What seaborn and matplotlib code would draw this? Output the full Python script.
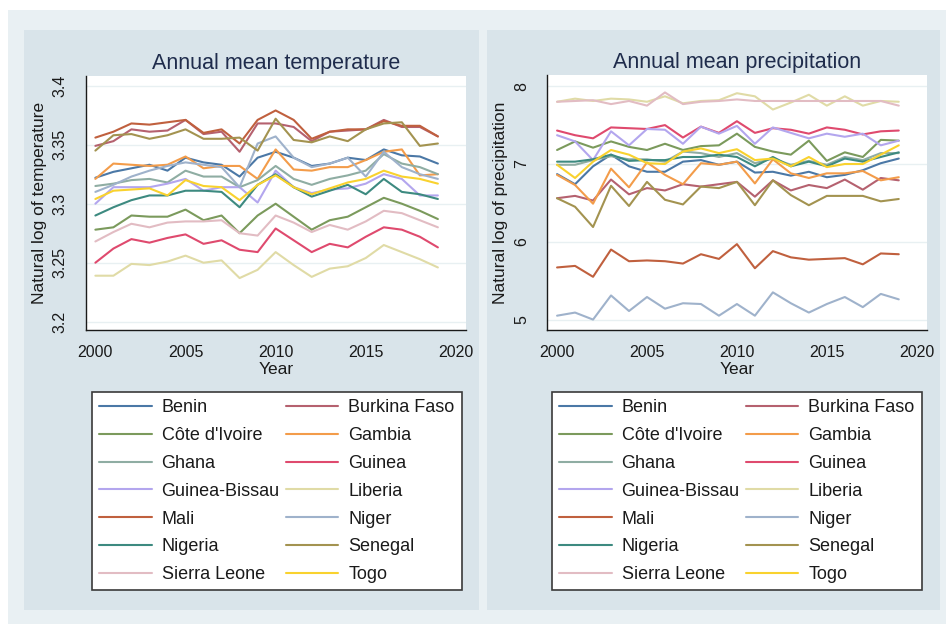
import matplotlib
matplotlib.use("Agg")
import matplotlib.pyplot as plt
from matplotlib.lines import Line2D
from matplotlib.patches import Rectangle
import pandas as pd
import seaborn as sns

# Years and countries
years = list(range(2000, 2020))
countries = ["Benin", "Burkina Faso", "Côte d'Ivoire", "Gambia", "Ghana", "Guinea",
             "Guinea-Bissau", "Liberia", "Mali", "Niger", "Nigeria", "Senegal",
             "Sierra Leone", "Togo"]

# Natural log of annual mean temperature
temp_benin = [3.322, 3.327, 3.330, 3.333, 3.328, 3.339, 3.335, 3.333, 3.323, 3.339,
              3.344, 3.339, 3.332, 3.334, 3.339, 3.337, 3.346, 3.341, 3.340, 3.334]
temp_burkina = [3.349, 3.353, 3.363, 3.361, 3.362, 3.371, 3.359, 3.361, 3.344, 3.368,
                3.368, 3.365, 3.353, 3.361, 3.362, 3.363, 3.371, 3.365, 3.365, 3.357]
temp_civ = [3.278, 3.280, 3.290, 3.289, 3.289, 3.295, 3.286, 3.290, 3.275, 3.290,
            3.300, 3.289, 3.278, 3.286, 3.289, 3.297, 3.305, 3.300, 3.294, 3.287]
temp_gambia = [3.321, 3.334, 3.333, 3.332, 3.333, 3.340, 3.330, 3.332, 3.332, 3.321,
               3.346, 3.329, 3.328, 3.331, 3.331, 3.337, 3.344, 3.346, 3.324, 3.325]
temp_ghana = [3.315, 3.317, 3.320, 3.321, 3.318, 3.328, 3.323, 3.323, 3.314, 3.320,
              3.332, 3.321, 3.316, 3.321, 3.324, 3.328, 3.342, 3.334, 3.331, 3.325]
temp_guinea = [3.250, 3.262, 3.270, 3.267, 3.271, 3.274, 3.266, 3.269, 3.261, 3.259,
               3.279, 3.269, 3.259, 3.266, 3.263, 3.272, 3.280, 3.278, 3.272, 3.263]
temp_bissau = [3.300, 3.314, 3.314, 3.314, 3.317, 3.321, 3.311, 3.314, 3.314, 3.301,
               3.328, 3.314, 3.309, 3.312, 3.313, 3.317, 3.325, 3.321, 3.307, 3.307]
temp_liberia = [3.239, 3.239, 3.249, 3.248, 3.251, 3.256, 3.250, 3.252, 3.237, 3.244,
                3.259, 3.248, 3.238, 3.245, 3.247, 3.254, 3.265, 3.259, 3.253, 3.246]
temp_mali = [3.356, 3.361, 3.368, 3.367, 3.369, 3.371, 3.360, 3.363, 3.351, 3.371,
             3.379, 3.371, 3.355, 3.361, 3.363, 3.363, 3.370, 3.366, 3.366, 3.357]
temp_niger = [3.310, 3.316, 3.323, 3.328, 3.332, 3.335, 3.333, 3.331, 3.314, 3.351,
              3.357, 3.339, 3.331, 3.334, 3.339, 3.323, 3.344, 3.331, 3.325, 3.321]
temp_nigeria = [3.290, 3.297, 3.303, 3.307, 3.307, 3.311, 3.311, 3.310, 3.297, 3.316,
                3.325, 3.314, 3.306, 3.311, 3.316, 3.308, 3.321, 3.310, 3.308, 3.304]
temp_senegal = [3.345, 3.358, 3.359, 3.355, 3.358, 3.363, 3.355, 3.355, 3.356, 3.345,
                3.372, 3.354, 3.352, 3.357, 3.353, 3.363, 3.368, 3.369, 3.349, 3.351]
temp_sierra = [3.268, 3.276, 3.283, 3.280, 3.284, 3.285, 3.285, 3.286, 3.275, 3.273,
               3.290, 3.284, 3.276, 3.282, 3.278, 3.285, 3.294, 3.292, 3.286, 3.280]
temp_togo = [3.304, 3.311, 3.312, 3.313, 3.307, 3.320, 3.315, 3.314, 3.303, 3.316,
             3.324, 3.314, 3.308, 3.313, 3.318, 3.321, 3.328, 3.323, 3.321, 3.317]

# Natural log of annual mean precipitation
prec_benin = [6.87, 6.74, 6.97, 7.12, 6.97, 6.90, 6.90, 7.03, 7.05, 6.99,
              7.03, 6.89, 6.90, 6.85, 6.90, 6.83, 6.86, 6.92, 7.01, 7.07]
prec_burkina = [6.56, 6.59, 6.53, 6.80, 6.61, 6.69, 6.66, 6.74, 6.71, 6.74,
                6.77, 6.58, 6.79, 6.66, 6.73, 6.69, 6.80, 6.67, 6.82, 6.79]
prec_civ = [7.18, 7.29, 7.21, 7.29, 7.22, 7.18, 7.26, 7.18, 7.23, 7.24,
            7.39, 7.22, 7.16, 7.12, 7.30, 7.04, 7.15, 7.09, 7.31, 7.30]
prec_gambia = [6.86, 6.73, 6.49, 6.94, 6.70, 7.02, 6.86, 6.74, 7.01, 6.99,
               7.03, 6.75, 7.06, 6.88, 6.82, 6.88, 6.88, 6.91, 6.79, 6.83]
prec_ghana = [6.99, 6.99, 7.05, 7.10, 7.06, 7.06, 7.03, 7.16, 7.14, 7.09,
              7.14, 7.01, 7.07, 6.99, 7.04, 6.99, 7.09, 7.05, 7.14, 7.14]
prec_guinea = [7.43, 7.37, 7.33, 7.47, 7.46, 7.45, 7.50, 7.34, 7.48, 7.40,
               7.55, 7.40, 7.46, 7.44, 7.39, 7.47, 7.44, 7.38, 7.42, 7.43]
prec_bissau = [7.37, 7.29, 7.05, 7.42, 7.24, 7.45, 7.44, 7.26, 7.48, 7.39,
               7.49, 7.26, 7.47, 7.40, 7.33, 7.39, 7.35, 7.39, 7.24, 7.30]
prec_liberia = [7.80, 7.84, 7.81, 7.84, 7.83, 7.80, 7.87, 7.78, 7.81, 7.82,
                7.91, 7.87, 7.70, 7.79, 7.89, 7.75, 7.87, 7.75, 7.81, 7.80]
prec_mali = [5.67, 5.69, 5.55, 5.90, 5.75, 5.76, 5.75, 5.72, 5.84, 5.78,
             5.97, 5.66, 5.88, 5.80, 5.77, 5.78, 5.79, 5.71, 5.85, 5.84]
prec_niger = [5.05, 5.09, 5.00, 5.31, 5.11, 5.29, 5.14, 5.21, 5.20, 5.05,
              5.20, 5.05, 5.35, 5.21, 5.09, 5.20, 5.29, 5.16, 5.33, 5.26]
prec_nigeria = [7.03, 7.03, 7.06, 7.12, 7.04, 7.05, 7.05, 7.09, 7.09, 7.12,
                7.09, 6.97, 7.09, 6.97, 7.03, 6.97, 7.07, 7.03, 7.09, 7.15]
prec_senegal = [6.56, 6.45, 6.19, 6.72, 6.46, 6.77, 6.54, 6.48, 6.71, 6.69,
                6.77, 6.47, 6.79, 6.60, 6.47, 6.59, 6.59, 6.59, 6.52, 6.55]
prec_sierra = [7.80, 7.81, 7.82, 7.77, 7.81, 7.75, 7.92, 7.77, 7.80, 7.81,
               7.83, 7.81, 7.81, 7.81, 7.81, 7.81, 7.81, 7.81, 7.81, 7.75]
prec_togo = [6.99, 6.82, 7.03, 7.18, 7.12, 7.01, 7.00, 7.16, 7.20, 7.14,
             7.19, 7.05, 7.07, 6.97, 7.09, 6.96, 7.00, 7.00, 7.12, 7.24]

temp_series = [temp_benin, temp_burkina, temp_civ, temp_gambia, temp_ghana, temp_guinea,
               temp_bissau, temp_liberia, temp_mali, temp_niger, temp_nigeria,
               temp_senegal, temp_sierra, temp_togo]
prec_series = [prec_benin, prec_burkina, prec_civ, prec_gambia, prec_ghana, prec_guinea,
               prec_bissau, prec_liberia, prec_mali, prec_niger, prec_nigeria,
               prec_senegal, prec_sierra, prec_togo]

palette = ["#4b78a6", "#b5616f", "#7b9a5c", "#f39c4a", "#8fada3", "#df4a6e",
           "#b3a6ee", "#e0dba6", "#c0603e", "#9fb2cb", "#3d8a80", "#a39350",
           "#e2bcc3", "#f9d22e"]


# Long-form dataframe for seaborn
def MakeLong(series_list):
    rows = []
    for name, vals in zip(countries, series_list):
        for yr, v in zip(years, vals):
            rows.append({"Year": yr, "Country": name, "Value": v})
    return pd.DataFrame(rows)


df_temp = MakeLong(temp_series)
df_prec = MakeLong(prec_series)

sns.set_style("white")
plt.rcParams["font.family"] = ["Liberation Sans", "DejaVu Sans"]

W, H = 946, 624
fig = plt.figure(figsize=(W / 100, H / 100), dpi=100, facecolor="white")

# background regions
fig.add_artist(Rectangle((8 / W, 0), 1, 1 - 10 / H, transform=fig.transFigure,
                         facecolor="#e9f0f3", edgecolor="none", zorder=-3))
for x0, x1 in [(24, 479), (487, 940)]:
    fig.add_artist(Rectangle((x0 / W, 1 - 610 / H), (x1 - x0) / W, 580 / H,
                             transform=fig.transFigure, facecolor="#d9e4ea",
                             edgecolor="none", zorder=-2))

ax1 = fig.add_axes([86 / W, 1 - 330 / H, 380 / W, 254 / H])
ax2 = fig.add_axes([547 / W, 1 - 330 / H, 380 / W, 255 / H])

dark = "#1a1a1a"
title_col = "#1f2c4c"


def StyleAxis(ax, df, title, ylabel, yticks, ylim, xlim):
    sns.lineplot(data=df, x="Year", y="Value", hue="Country", hue_order=countries,
                 palette=palette, linewidth=1.5, legend=False, ax=ax)
    ax.set_facecolor("white")
    ax.set_xlim(*xlim)
    ax.set_ylim(*ylim)
    ax.set_xticks([2000, 2005, 2010, 2015, 2020])
    ax.set_yticks(yticks)
    ax.set_yticklabels([f"{t:g}" for t in yticks], rotation=90, va="center")
    ax.yaxis.grid(True, color="#e8f0f2", linewidth=1)
    ax.xaxis.grid(False)
    ax.set_axisbelow(True)
    for s in ["top", "right"]:
        ax.spines[s].set_visible(False)
    for s in ["left", "bottom"]:
        ax.spines[s].set_color(dark)
        ax.spines[s].set_linewidth(1)
    ax.tick_params(direction="out", length=6, width=1, color=dark,
                   labelsize=11.5, labelcolor=dark, pad=5)
    ax.tick_params(axis="y", pad=7)
    ax.set_title(title, fontsize=15.5, color=title_col, pad=5)
    ax.set_xlabel("Year", fontsize=12.5, color=dark, labelpad=1)
    ax.set_ylabel(ylabel, fontsize=12.5, color=dark, labelpad=4)


StyleAxis(ax1, df_temp, "Annual mean temperature", "Natural log of temperature",
          [3.2, 3.25, 3.3, 3.35, 3.4], (3.193, 3.4082), (1999.48, 2020.56))
StyleAxis(ax2, df_prec, "Annual mean precipitation", "Natural log of precipitation",
          [5, 6, 7, 8], (4.866, 8.144), (1999.44, 2020.57))

# Legends, row-major order in two columns
order = list(range(0, 14, 2)) + list(range(1, 14, 2))
handles = [Line2D([0], [0], color=palette[i], lw=1.5) for i in order]
labels = [countries[i] for i in order]
for lx in [92, 552]:
    leg = fig.legend(handles, labels, ncol=2, loc="upper left",
                     bbox_to_anchor=(lx / W, 1 - 392 / H),
                     bbox_transform=fig.transFigure,
                     fontsize=13, frameon=True, fancybox=False, framealpha=1,
                     facecolor="white", edgecolor="#3a3a3a", handlelength=2.9,
                     handletextpad=0.55, labelspacing=0.6, borderpad=0.4,
                     borderaxespad=0, columnspacing=0.35)
    leg.get_frame().set_linewidth(1.2)
    for t in leg.get_texts():
        t.set_color(dark)

fig.savefig("out.png", dpi=100, facecolor=fig.get_facecolor())
